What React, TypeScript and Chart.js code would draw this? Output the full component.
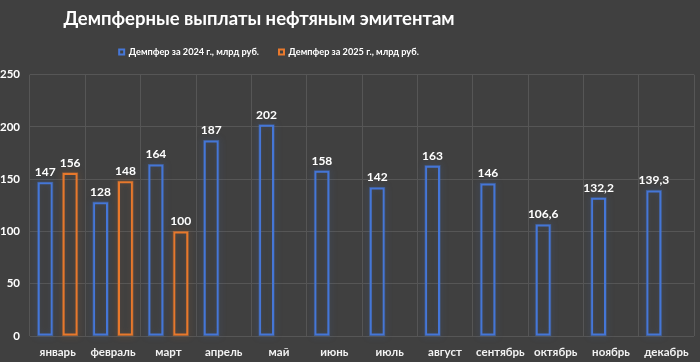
import React, { useEffect, useRef } from "react";
import { Chart, registerables } from "chart.js";

Chart.register(...registerables);

const titleText = "Демпферные выплаты нефтяным эмитентам";
const months = ["январь", "февраль", "март", "апрель", "май", "июнь", "июль", "август", "сентябрь", "октябрь", "ноябрь", "декабрь"];
const series2024Label = "Демпфер за 2024 г., млрд руб.";
const series2025Label = "Демпфер за 2025 г., млрд руб.";
const values2024 = [147, 128, 164, 187, 202, 158, 142, 163, 146, 106.6, 132.2, 139.3];
const values2025: (number | null)[] = [156, 148, 100, null, null, null, null, null, null, null, null, null];
const yTicks = [0, 50, 100, 150, 200, 250];

const BG = "#404040";
const BLUE = "#4677d8";
const ORANGE = "#e8792d";
const FONT = "Lato, 'Noto Sans', sans-serif";
const TITLE_SHIFT = -88;
const LEGEND_SHIFT = -78;
const LEGEND_LIFT = 8;

const fmt = (v: number) => String(v).replace(".", ",");

const shiftPlugin = {
  id: "shiftHeader",
  afterLayout(chart: any) {
    const t = chart.titleBlock;
    if (t) {
      t.left += TITLE_SHIFT;
      t.right += TITLE_SHIFT;
    }
    const l = chart.legend;
    if (l) {
      l.left += LEGEND_SHIFT;
      l.right += LEGEND_SHIFT;
      l.top -= LEGEND_LIFT;
      l.bottom -= LEGEND_LIFT;
    }
  },
};

const glowPlugin = {
  id: "glow",
  afterDatasetsDraw(chart: any) {
    const ctx = chart.ctx;
    chart.data.datasets.forEach((ds: any, i: number) => {
      const meta = chart.getDatasetMeta(i);
      meta.data.forEach((bar: any, j: number) => {
        const v = ds.data[j];
        if (v === null || v === undefined) return;
        const { x, y, base, width } = bar.getProps(["x", "y", "base", "width"], true);
        ctx.save();
        ctx.shadowColor = ds.borderColor;
        ctx.shadowBlur = 6;
        ctx.strokeStyle = ds.borderColor;
        ctx.globalAlpha = 0.5;
        ctx.lineWidth = 1;
        ctx.strokeRect(x - width / 2, y, width, base - y);
        ctx.restore();
        ctx.save();
        ctx.fillStyle = "#ffffff";
        ctx.font = `bold 12px ${FONT}`;
        ctx.textAlign = "center";
        ctx.textBaseline = "bottom";
        ctx.fillText(fmt(v), x, y - 4);
        ctx.restore();
      });
    });
  },
};

export default function App() {
  const ref = useRef<HTMLCanvasElement>(null);
  useEffect(() => {
    document.body.style.margin = "0";
    document.body.style.background = BG;
    const chart: any = new Chart(ref.current!, {
      type: "bar",
      data: {
        labels: months,
        datasets: [
          {
            label: series2024Label,
            data: values2024,
            backgroundColor: "rgba(0,0,0,0)",
            borderColor: BLUE,
            borderWidth: 2,
            borderSkipped: false,
            categoryPercentage: 0.9,
            barPercentage: 0.6,
          },
          {
            label: series2025Label,
            data: values2025,
            backgroundColor: "rgba(0,0,0,0)",
            borderColor: ORANGE,
            borderWidth: 2,
            borderSkipped: false,
            categoryPercentage: 0.9,
            barPercentage: 0.6,
          },
        ],
      },
      options: {
        responsive: false,
        maintainAspectRatio: false,
        animation: false,
        layout: { padding: { left: 0, right: 6, top: 0, bottom: 0 } },
        plugins: {
          title: {
            display: true,
            text: titleText,
            color: "#ffffff",
            font: { family: FONT, size: 18.5, weight: "bold" },
            padding: { top: 8, bottom: 5.3 },
          },
          legend: {
            display: true,
            labels: {
              color: "#ffffff",
              font: { family: FONT, size: 9.2, weight: "bold" },
              boxWidth: 5,
              boxHeight: 5,
              padding: 20,
            },
          },
          tooltip: { enabled: false },
        },
        scales: {
          x: {
            grid: { color: "#565656", drawTicks: false, offset: true },
            border: { display: false },
            afterFit: (scale: any) => {
              scale.height = 26;
            },
            ticks: {
              color: "#f2f2f2",
              font: { family: FONT, size: 11.5, weight: "bold" },
              padding: 9,
              maxRotation: 0,
              autoSkip: false,
            },
          },
          y: {
            min: 0,
            max: 250,
            afterBuildTicks: (axis: any) => {
              axis.ticks = yTicks.map((v) => ({ value: v }));
            },
            afterFit: (scale: any) => {
              scale.width = 30;
            },
            grid: { color: "#565656", drawTicks: false },
            border: { display: false },
            ticks: {
              color: "#ffffff",
              font: { family: FONT, size: 11.5, weight: "bold" },
              padding: 10,
            },
          },
        },
      },
      plugins: [shiftPlugin, glowPlugin],
    });
    return () => chart.destroy();
  }, []);
  return (
    <div style={{ width: 700, height: 362, background: BG }}>
      <canvas ref={ref} width={700} height={362} style={{ display: "block" }} />
    </div>
  );
}
